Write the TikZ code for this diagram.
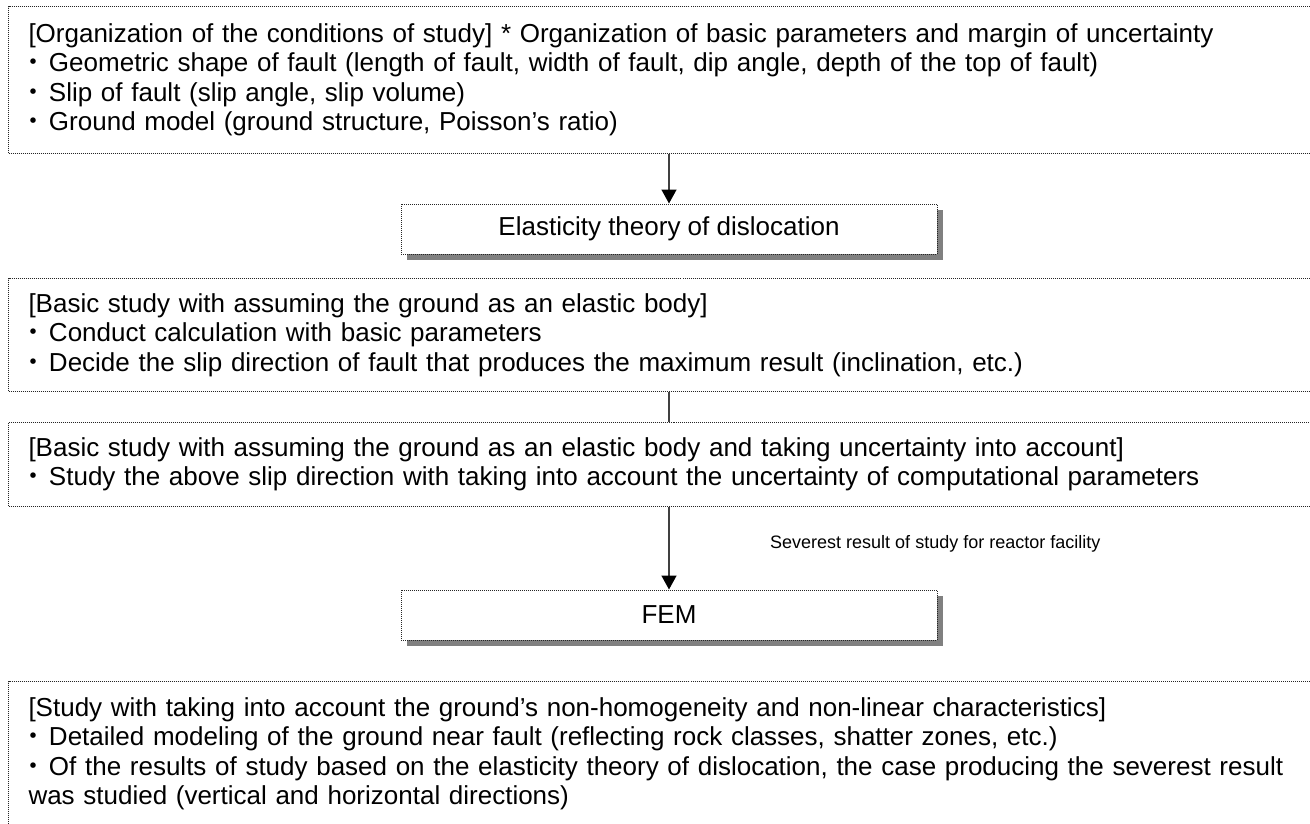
\documentclass[tikz,border=0pt]{standalone}
\usepackage{fontspec}
\setmainfont{Liberation Sans}
\newfontfamily\cjk{Noto Sans CJK JP}
\usetikzlibrary{arrows.meta,shadows}
\newcommand{\bul}{\makebox[20.5pt][l]{\hspace*{-8pt}{\cjk ・}}}
\begin{document}
\begin{tikzpicture}[x=1pt,y=-1pt,
  frame/.style={draw=black!85, dash pattern=on 1pt off 1pt, line width=1pt, fill=white},
  bigbox/.style={frame, anchor=north west, align=left, text width=1290pt, inner xsep=20pt, inner ysep=0pt, font=\fontsize{26}{29.5}\selectfont},
  smallbox/.style={frame, minimum width=536pt, minimum height=50pt, inner sep=0pt, font=\fontsize{26}{29.5}\selectfont,
    drop shadow={shadow xshift=6pt, shadow yshift=-6pt, fill=black!50, opacity=1}},
  arr/.style={line width=1.5pt, draw=black!75, -{Triangle[width=15pt,length=14pt,color=black]}},
  conn/.style={line width=1.5pt, draw=black!75},
  lab/.style={font=\fontsize{18}{21}\selectfont, inner sep=0pt}
]
\useasboundingbox (0,0) rectangle (1310,823);
\fill[white] (0,0) rectangle (1310,823);
\clip (0,0) rectangle (1310,823);

\node[bigbox, minimum height=147pt] (b1) at (8,6) {[Organization of the conditions of study] * Organization of basic parameters and margin of uncertainty\\
\bul Geometric shape of fault (length of fault, width of fault, dip angle, depth of the top of fault)\\
\bul Slip of fault (slip angle, slip volume)\\
\bul Ground model (ground structure, Poisson’s ratio)};

\node[smallbox] (e) at (669,229) {Elasticity theory of dislocation};

\node[bigbox, minimum height=113pt] (b2) at (8,278) {[Basic study with assuming the ground as an elastic body]\\
\bul Conduct calculation with basic parameters\\
\bul Decide the slip direction of fault that produces the maximum result (inclination, etc.)};

\node[bigbox, minimum height=84pt] (b3) at (8,422) {[Basic study with assuming the ground as an elastic body and taking uncertainty into account]\\
\bul Study the above slip direction with taking into account the uncertainty of computational parameters};

\node[smallbox] (f) at (669,615) {FEM};

\node[bigbox, minimum height=145pt] (b4) at (8,681) {[Study with taking into account the ground’s non-homogeneity and non-linear characteristics]\\
\bul Detailed modeling of the ground near fault (reflecting rock classes, shatter zones, etc.)\\
\bul Of the results of study based on the elasticity theory of dislocation, the case producing the severest result\\
was studied (vertical and horizontal directions)};

\draw[arr] (b1.south -| e.north) -- (e.north);
\draw[conn] (b2.south -| e.north) -- (b3.north -| e.north);
\draw[arr] (b3.south -| f.north) -- (f.north);

\node[lab, anchor=base west] (l) at (770,548) {Severest result of study for reactor facility};
\end{tikzpicture}
\end{document}
